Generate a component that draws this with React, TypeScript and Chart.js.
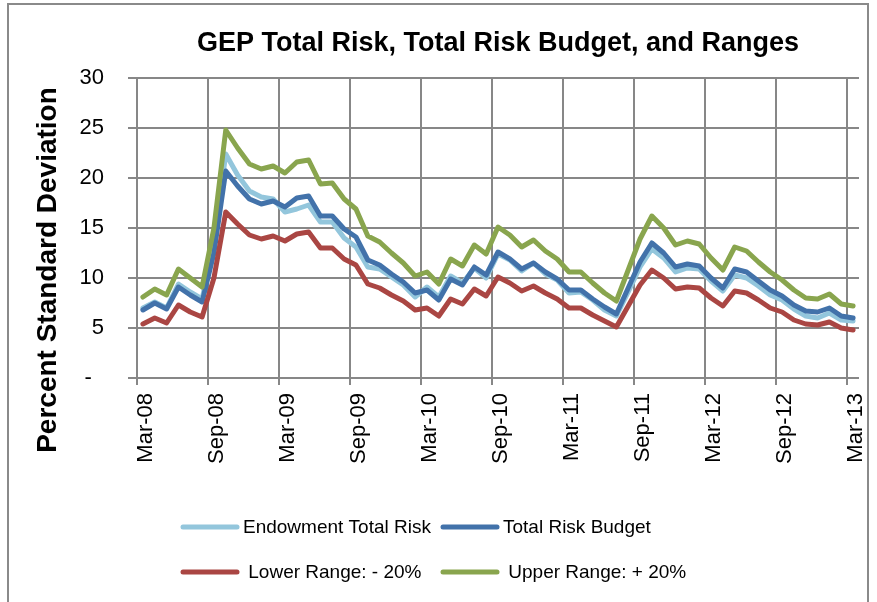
import React, { useEffect, useRef } from "react";
import { Chart, registerables } from "chart.js";

Chart.register(...registerables);

const TITLE = "GEP Total Risk, Total Risk Budget, and Ranges";
const Y_TITLE = "Percent Standard Deviation";

const MONTHS = [
  "Mar-08", "Apr-08", "May-08", "Jun-08", "Jul-08", "Aug-08", "Sep-08", "Oct-08", "Nov-08", "Dec-08",
  "Jan-09", "Feb-09", "Mar-09", "Apr-09", "May-09", "Jun-09", "Jul-09", "Aug-09", "Sep-09", "Oct-09",
  "Nov-09", "Dec-09", "Jan-10", "Feb-10", "Mar-10", "Apr-10", "May-10", "Jun-10", "Jul-10", "Aug-10",
  "Sep-10", "Oct-10", "Nov-10", "Dec-10", "Jan-11", "Feb-11", "Mar-11", "Apr-11", "May-11", "Jun-11",
  "Jul-11", "Aug-11", "Sep-11", "Oct-11", "Nov-11", "Dec-11", "Jan-12", "Feb-12", "Mar-12", "Apr-12",
  "May-12", "Jun-12", "Jul-12", "Aug-12", "Sep-12", "Oct-12", "Nov-12", "Dec-12", "Jan-13", "Feb-13",
  "Mar-13",
];

const ENDOWMENT = [
  7.0, 7.6, 7.0, 9.4, 8.6, 7.9, 13.5, 22.4, 20.3, 18.7,
  18.1, 17.9, 16.6, 16.9, 17.3, 15.6, 15.6, 14.0, 13.1, 11.1,
  10.9, 10.1, 9.3, 8.1, 9.1, 8.1, 10.2, 9.5, 11.0, 10.0,
  12.4, 11.8, 10.7, 11.5, 10.4, 9.8, 8.5, 8.6, 7.8, 6.8,
  6.2, 8.6, 11.1, 12.9, 12.0, 10.6, 11.0, 10.9, 9.7, 8.7,
  10.3, 10.0, 9.2, 8.3, 7.8, 6.9, 6.2, 6.0, 6.5, 5.8,
  5.7,
];

const BUDGET = [
  6.8, 7.5, 6.9, 9.1, 8.3, 7.6, 12.5, 20.7, 19.2, 17.9,
  17.4, 17.7, 17.1, 18.0, 18.2, 16.2, 16.2, 14.9, 14.1, 11.8,
  11.3, 10.4, 9.6, 8.5, 8.8, 7.8, 9.9, 9.3, 11.1, 10.3,
  12.6, 11.9, 10.9, 11.5, 10.6, 9.9, 8.8, 8.8, 7.9, 7.1,
  6.4, 9.0, 11.6, 13.5, 12.5, 11.1, 11.4, 11.2, 10.0, 9.0,
  10.9, 10.6, 9.7, 8.8, 8.2, 7.3, 6.7, 6.6, 7.0, 6.2,
  6.0,
];

const LOWER = [
  5.4, 6.0, 5.5, 7.3, 6.6, 6.1, 10.0, 16.6, 15.4, 14.3,
  13.9, 14.2, 13.7, 14.4, 14.6, 13.0, 13.0, 11.9, 11.3, 9.4,
  9.0, 8.3, 7.7, 6.8, 7.0, 6.2, 7.9, 7.4, 8.9, 8.2,
  10.1, 9.5, 8.7, 9.2, 8.5, 7.9, 7.0, 7.0, 6.3, 5.7,
  5.1, 7.2, 9.3, 10.8, 10.0, 8.9, 9.1, 9.0, 8.0, 7.2,
  8.7, 8.5, 7.8, 7.0, 6.6, 5.8, 5.4, 5.3, 5.6, 5.0,
  4.8,
];

const UPPER = [
  8.1, 8.9, 8.3, 10.9, 10.0, 9.1, 15.0, 24.8, 23.0, 21.4,
  20.9, 21.2, 20.5, 21.6, 21.8, 19.4, 19.5, 17.9, 16.9, 14.2,
  13.6, 12.5, 11.5, 10.2, 10.6, 9.4, 11.9, 11.2, 13.3, 12.4,
  15.1, 14.3, 13.1, 13.8, 12.7, 11.9, 10.6, 10.6, 9.5, 8.5,
  7.7, 10.8, 13.9, 16.2, 15.0, 13.3, 13.7, 13.4, 12.0, 10.8,
  13.1, 12.7, 11.6, 10.6, 9.8, 8.8, 8.0, 7.9, 8.4, 7.4,
  7.2,
];

const SERIES_NAMES = ["Endowment Total Risk", "Total Risk Budget", " Lower Range: - 20%", " Upper Range: + 20%"];
const COLORS = ["#93C6DC", "#4272AA", "#AA4643", "#89A54E"];

const Y_TICKS_MAX = 30;
const Y_STEP = 5;
const LABEL_EVERY = 6;

const FONT = '"Liberation Sans", Arial, sans-serif';
const GRID = "#878787";

const overlayPlugin = {
  id: "overlay",
  afterDraw(chart: any) {
    const ctx = chart.ctx as CanvasRenderingContext2D;
    // y axis title, centred on axis incl. labels
    ctx.save();
    ctx.translate(48, 270);
    ctx.rotate(-Math.PI / 2);
    ctx.font = `bold 28px ${FONT}`;
    ctx.fillStyle = "#000";
    ctx.textAlign = "center";
    ctx.textBaseline = "middle";
    ctx.fillText(Y_TITLE, 0, 0);
    ctx.restore();

    // legend: two rows of two
    const rows = [527, 572];
    const cols = [183, 443];
    ctx.save();
    ctx.font = `19px ${FONT}`;
    ctx.textBaseline = "middle";
    ctx.textAlign = "left";
    chart.data.datasets.forEach((ds: any, i: number) => {
      const x = cols[i % 2];
      const y = rows[Math.floor(i / 2)];
      ctx.strokeStyle = ds.borderColor;
      ctx.lineWidth = 5;
      ctx.lineCap = "round";
      ctx.beginPath();
      ctx.moveTo(x, y);
      ctx.lineTo(x + 54, y);
      ctx.stroke();
      ctx.fillStyle = "#000";
      ctx.fillText(ds.label, x + 60, y + 1);
    });
    ctx.restore();
  },
};

export default function App() {
  const ref = useRef<HTMLCanvasElement | null>(null);
  useEffect(() => {
    if (!ref.current) return;
    const seriesData = [ENDOWMENT, BUDGET, LOWER, UPPER];
    const chart = new Chart(ref.current, {
      type: "line",
      data: {
        labels: MONTHS,
        datasets: seriesData.map((d, i) => ({
          label: SERIES_NAMES[i],
          data: d,
          borderColor: COLORS[i],
          backgroundColor: COLORS[i],
          borderWidth: 5,
          pointRadius: 0,
          tension: 0,
          borderJoinStyle: "round" as const,
          borderCapStyle: "round" as const,
          order: 4 - i,
        })),
      },
      options: {
        responsive: false,
        animation: false,
        layout: { padding: { left: 0, right: 18, top: 0, bottom: 114 } },
        plugins: {
          legend: { display: false },
          tooltip: { enabled: false },
          title: {
            display: true,
            text: TITLE,
            fullSize: false,
            color: "#000",
            font: { family: FONT, size: 27, weight: "bold" },
            padding: { top: 27, bottom: 18.6 },
          },
        },
        scales: {
          x: {
            type: "category",
            offset: true,
            grid: {
              offset: true,
              lineWidth: 2,
              tickLength: 7,
              color: (c: any) => (c.index % LABEL_EVERY === 0 && c.index < MONTHS.length ? GRID : "rgba(0,0,0,0)"),
            },
            border: { display: false },
            ticks: {
              autoSkip: false,
              minRotation: 90,
              maxRotation: 90,
              padding: 8,
              labelOffset: 3,
              color: "#000",
              font: { family: FONT, size: 22 },
              callback: (_v: any, i: number) => (i % LABEL_EVERY === 0 ? MONTHS[i] : ""),
            },
            afterFit: (s: any) => {
              s.height = 110;
              s.paddingLeft = 0;
              s.paddingRight = 0;
            },
          },
          y: {
            min: 0,
            max: Y_TICKS_MAX,
            grid: { color: GRID, lineWidth: 2, tickLength: 9 },
            border: { display: true, color: GRID, width: 2 },
            ticks: {
              stepSize: Y_STEP,
              padding: 24,
              color: "#000",
              font: { family: FONT, size: 22 },
              callback: (v: any) => (Number(v) === 0 ? "-  " : String(v)),
            },
            afterFit: (s: any) => {
              s.width = 137;
              s.paddingTop = 0;
              s.paddingBottom = 0;
            },
          },
        },
      },
      plugins: [overlayPlugin],
    });
    return () => chart.destroy();
  }, []);

  return (
    <div style={{ position: "fixed", left: 0, top: 0, width: 877, height: 602, background: "#fff" }}>
      <div
        style={{
          position: "absolute",
          left: 7,
          top: 3,
          width: 862,
          height: 610,
          border: "2px solid #8a8a8a",
          boxSizing: "border-box",
        }}
      />
      <canvas ref={ref} width={877} height={602} style={{ position: "absolute", left: 0, top: 0 }} />
    </div>
  );
}
